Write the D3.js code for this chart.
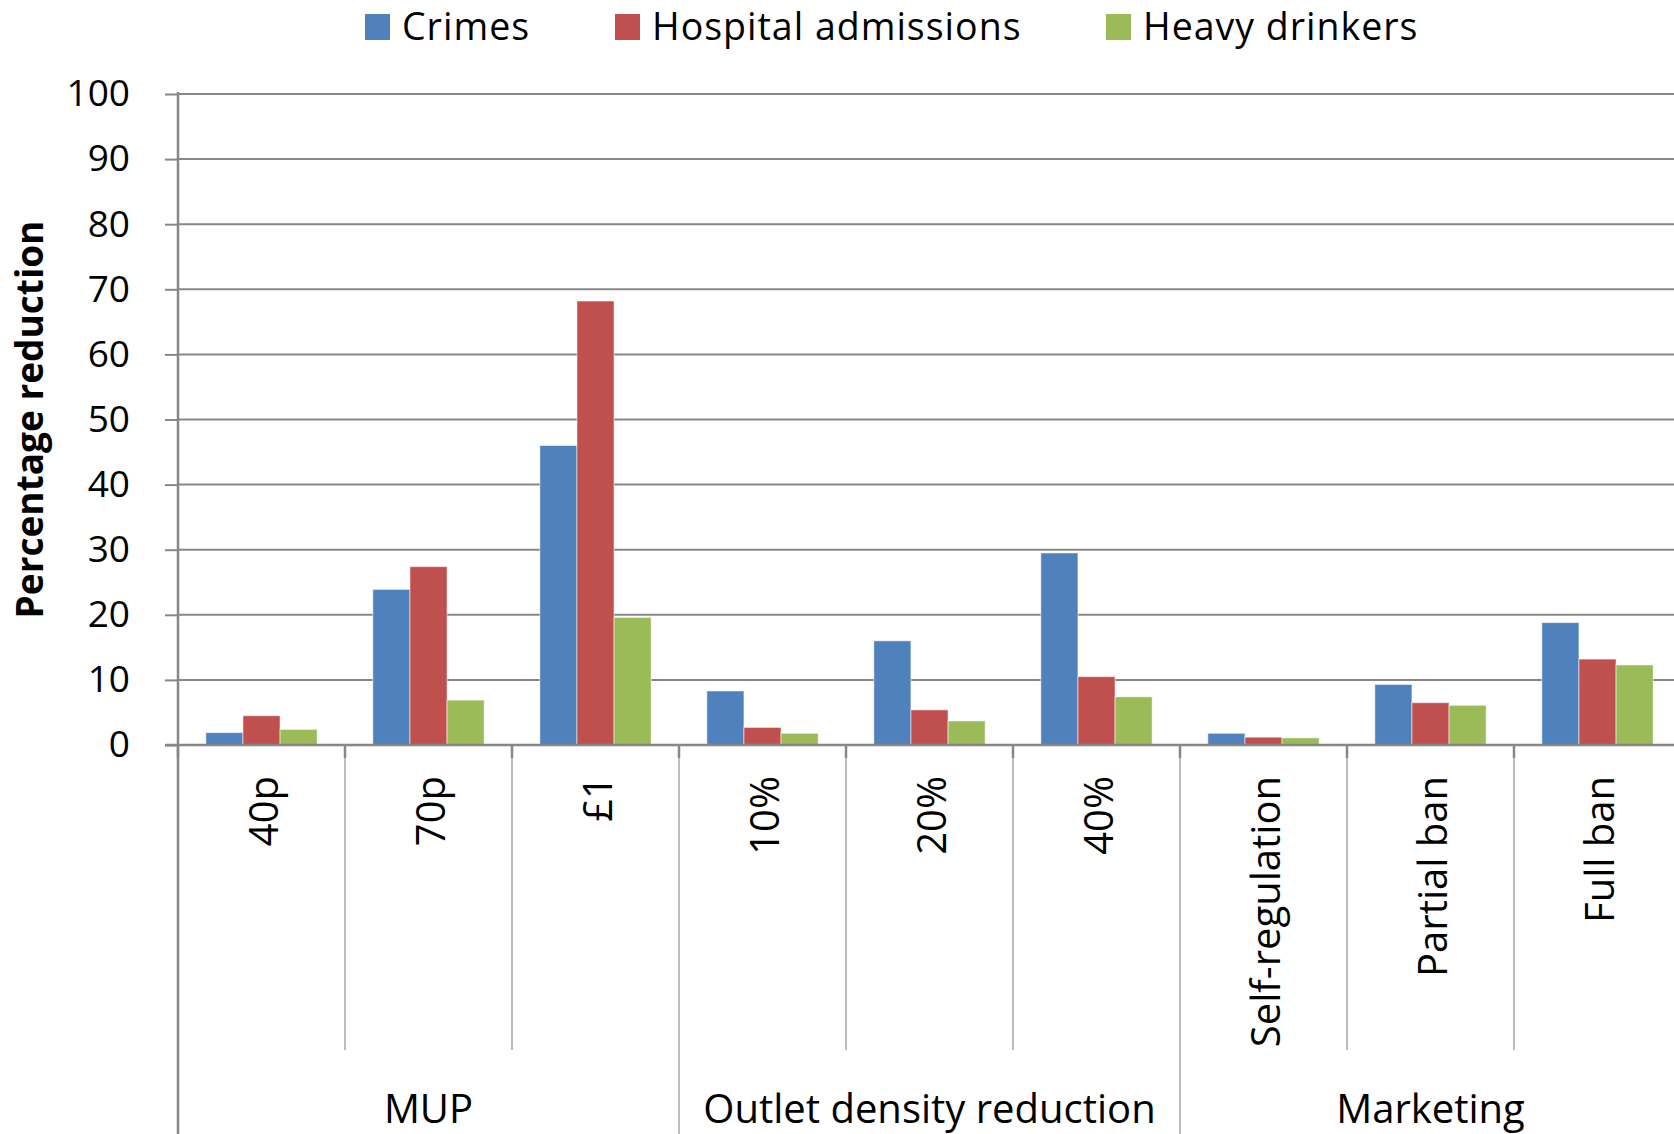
<!DOCTYPE html>
<html>
<head>
<meta charset="utf-8">
<script src="https://cdn.jsdelivr.net/npm/d3@7"></script>
<style>
  html, body { margin: 0; padding: 0; background: #fff; }
  svg { display: block; font-family: "Open Sans", "Noto Sans", sans-serif; }
</style>
</head>
<body>
<svg id="chart" width="1674" height="1134"></svg>
<script>
// Policy scenarios (second-level categories) and their groups
const categories = ["40p", "70p", "£1", "10%", "20%", "40%", "Self-regulation", "Partial ban", "Full ban"];
const groupNames = ["MUP", "Outlet density reduction", "Marketing"];
const groupSizes = [3, 3, 3];

// Percentage reduction per scenario
const seriesNames = ["Crimes", "Hospital admissions", "Heavy drinkers"];
const crimes   = [1.9, 23.9, 46.0, 8.3, 16.0, 29.5, 1.8, 9.3, 18.8];
const hospital = [4.5, 27.4, 68.2, 2.7, 5.4, 10.5, 1.2, 6.5, 13.2];
const heavy    = [2.4, 6.9, 19.6, 1.8, 3.7, 7.4, 1.1, 6.1, 12.3];
const seriesColors = ["#4F81BD", "#C0504D", "#9BBB59"];

const yTicks = [0, 10, 20, 30, 40, 50, 60, 70, 80, 90, 100];
const yTitle = "Percentage reduction";

const svg = d3.select("#chart");

// Plot geometry
const plotLeft = 178, plotTop = 94, plotBottom = 745, catStep = 167;
const plotRight = plotLeft + catStep * categories.length;

const x0 = d3.scaleBand().domain(categories).range([plotLeft, plotRight]).padding(0);
const x1 = d3.scaleBand().domain(seriesNames).range([0, x0.bandwidth()])
  .paddingInner(0).paddingOuter(0.75);
const y = d3.scaleLinear().domain([0, 100]).range([plotBottom, plotTop]);
const color = d3.scaleOrdinal().domain(seriesNames).range(seriesColors);

// Horizontal gridlines
svg.append("g")
  .selectAll("line")
  .data(yTicks)
  .join("line")
  .attr("x1", plotLeft).attr("x2", plotRight)
  .attr("y1", d => y(d)).attr("y2", d => y(d))
  .attr("stroke", "#878787").attr("stroke-width", 2);

// Y axis with outside ticks
const yAxis = svg.append("g")
  .attr("transform", `translate(${plotLeft},0)`)
  .call(d3.axisLeft(y).tickValues(yTicks).tickSize(13).tickSizeOuter(0).tickPadding(35));
yAxis.select(".domain").remove();
yAxis.selectAll(".tick line").attr("stroke", "#878787").attr("stroke-width", 2);
yAxis.selectAll(".tick text")
  .attr("fill", "#000")
  .style("font-family", "'Open Sans', sans-serif")
  .style("font-size", "37px");

// Y axis title
svg.append("text")
  .attr("transform", `translate(43,${(plotTop + plotBottom) / 2}) rotate(-90)`)
  .attr("text-anchor", "middle")
  .style("font-size", "37px")
  .style("font-weight", "700")
  .attr("fill", "#000")
  .text(yTitle);

// Bars
const rows = categories.map((c, i) => ({
  cat: c,
  values: [crimes[i], hospital[i], heavy[i]].map((v, j) => ({ series: seriesNames[j], value: v }))
}));

svg.append("g")
  .selectAll("g")
  .data(rows)
  .join("g")
  .attr("transform", d => `translate(${x0(d.cat)},0)`)
  .selectAll("rect")
  .data(d => d.values)
  .join("rect")
  .attr("x", d => x1(d.series))
  .attr("y", d => y(d.value))
  .attr("width", x1.bandwidth())
  .attr("height", d => y(0) - y(d.value))
  .attr("fill", d => color(d.series))
  .attr("stroke", "#ffffff")
  .attr("stroke-opacity", 0.55)
  .attr("stroke-width", 1);

// Category separators in the label area
const boundaries = d3.range(categories.length + 1).map(i => plotLeft + i * catStep);
const groupEdges = [0];
groupSizes.forEach(s => groupEdges.push(groupEdges[groupEdges.length - 1] + s));

svg.append("g")
  .selectAll("line")
  .data(boundaries.map((b, i) => ({ x: b, group: groupEdges.includes(i) })))
  .join("line")
  .attr("x1", d => d.x).attr("x2", d => d.x)
  .attr("y1", plotBottom).attr("y2", d => d.group ? 1134 : 1050)
  .attr("stroke", "#a6a6a6").attr("stroke-width", 1.5);

// Short tick marks just below the axis
svg.append("g")
  .selectAll("line")
  .data(boundaries)
  .join("line")
  .attr("x1", d => d).attr("x2", d => d)
  .attr("y1", plotBottom).attr("y2", plotBottom + 13)
  .attr("stroke", "#878787").attr("stroke-width", 2.5);

// Axis lines
svg.append("line")
  .attr("x1", plotLeft).attr("x2", plotLeft).attr("y1", plotTop - 2).attr("y2", 1134)
  .attr("stroke", "#878787").attr("stroke-width", 2.5);
svg.append("line")
  .attr("x1", plotLeft - 13).attr("x2", plotRight).attr("y1", plotBottom).attr("y2", plotBottom)
  .attr("stroke", "#878787").attr("stroke-width", 2.5);

// Rotated scenario labels
svg.append("g")
  .selectAll("text")
  .data(categories)
  .join("text")
  .attr("transform", d => `translate(${x0(d) + x0.bandwidth() / 2 + 16},776) rotate(-90)`)
  .attr("text-anchor", "end")
  .style("font-size", "40px")
  .attr("fill", "#000")
  .text(d => d);

// Group labels
let start = 0;
const groupData = groupNames.map((g, i) => {
  const d = { name: g, cx: plotLeft + (start + groupSizes[i] / 2) * catStep };
  start += groupSizes[i];
  return d;
});
svg.append("g")
  .selectAll("text")
  .data(groupData)
  .join("text")
  .attr("x", d => d.cx)
  .attr("y", 1123)
  .attr("text-anchor", "middle")
  .style("font-size", "40px")
  .attr("fill", "#000")
  .text(d => d.name);

// Legend
const legendX = [365, 615, 1106];
const legend = svg.append("g")
  .selectAll("g")
  .data(seriesNames)
  .join("g")
  .attr("transform", (d, i) => `translate(${legendX[i]},0)`);
legend.append("rect")
  .attr("x", 0).attr("y", 14).attr("width", 25).attr("height", 26)
  .attr("fill", d => color(d));
legend.append("text")
  .attr("x", 37).attr("y", 40)
  .style("font-size", "37.5px")
  .style("letter-spacing", "1px")
  .attr("fill", "#000")
  .text(d => d);
</script>
</body>
</html>
